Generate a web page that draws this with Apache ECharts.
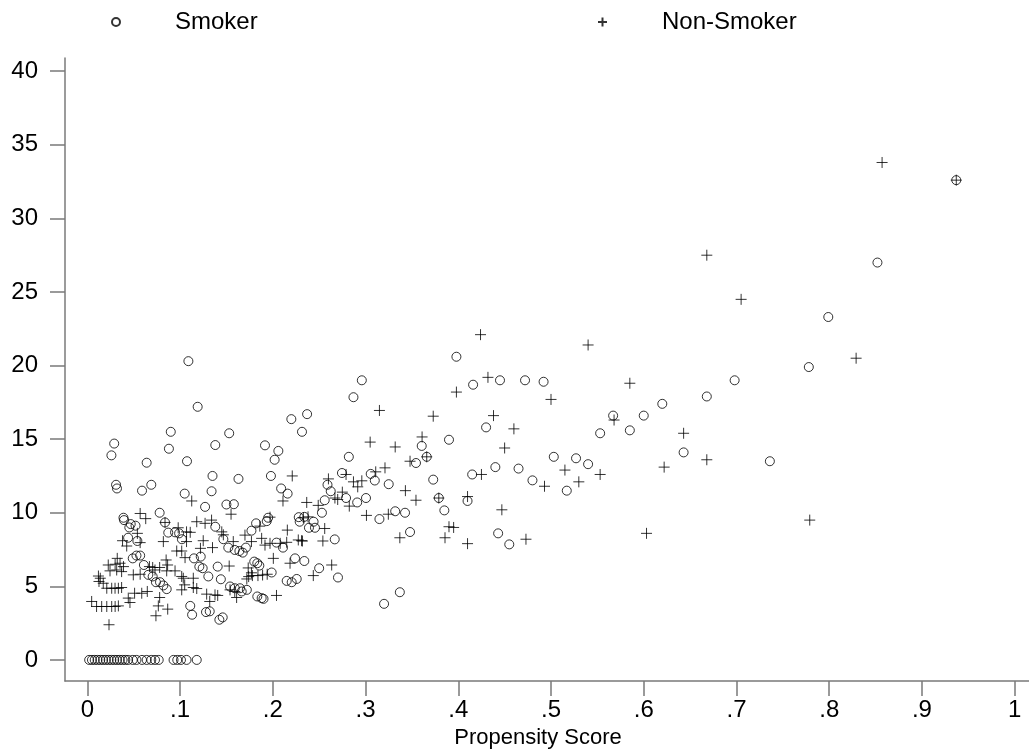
<!DOCTYPE html>
<html>
<head>
<meta charset="utf-8">
<script src="https://cdn.jsdelivr.net/npm/echarts@6/dist/echarts.min.js"></script>
<style>
  html, body { margin: 0; padding: 0; background: #fff; }
  #main { width: 1029px; height: 754px; }
</style>
</head>
<body>
<div id="main"></div>
<script>
// propensity score vs value, circles = smokers, plus = non-smokers
var xTicks = [0, 0.1, 0.2, 0.3, 0.4, 0.5, 0.6, 0.7, 0.8, 0.9, 1];
var yTicks = [0, 5, 10, 15, 20, 25, 30, 35, 40];

var smokerZero = [0.002, 0.005, 0.008, 0.011, 0.014, 0.017, 0.02, 0.023, 0.026, 0.029, 0.032, 0.035,
  0.038, 0.041, 0.044, 0.049, 0.053, 0.059, 0.064, 0.069, 0.073, 0.077, 0.093, 0.097, 0.101, 0.107, 0.118];

var smoker = [
  [0.090, 15.5], [0.029, 14.7], [0.088, 14.35], [0.026, 13.9], [0.064, 13.4], [0.1075, 13.5],
  [0.031, 11.9], [0.032, 11.65], [0.059, 11.5], [0.069, 11.9], [0.105, 11.3], [0.078, 10.0], [0.039, 9.66],
  [0.119, 17.2], [0.109, 20.3], [0.153, 15.4], [0.138, 14.6], [0.135, 12.5], [0.163, 12.3], [0.134, 11.46],
  [0.127, 10.4], [0.150, 10.56], [0.158, 10.58], [0.220, 16.36], [0.237, 16.7], [0.2315, 15.5],
  [0.1916, 14.58], [0.206, 14.2], [0.202, 13.6], [0.198, 12.5], [0.209, 11.65], [0.216, 11.3],
  [0.195, 9.66], [0.1935, 9.43], [0.228, 9.7], [0.234, 9.72], [0.229, 9.39], [0.244, 9.39], [0.239, 8.98], [0.2455, 8.98],
  [0.0396, 9.5], [0.0468, 9.23], [0.052, 9.12], [0.0453, 9.0], [0.0838, 9.34], [0.0873, 8.65], [0.0946, 8.67],
  [0.102, 8.2], [0.099, 8.6], [0.044, 8.3], [0.054, 8.08], [0.049, 6.9], [0.053, 7.09], [0.057, 7.09],
  [0.061, 6.45], [0.0658, 5.78], [0.0705, 5.67], [0.074, 5.28], [0.0784, 5.28], [0.082, 5.06], [0.0856, 4.81],
  [0.111, 3.67], [0.113, 3.07],
  [0.138, 9.05], [0.1467, 8.2], [0.152, 7.63], [0.159, 7.47], [0.164, 7.4], [0.1676, 7.29], [0.171, 7.63],
  [0.182, 9.28], [0.177, 8.78], [0.204, 7.97], [0.211, 7.63], [0.224, 6.9], [0.234, 6.72], [0.1988, 5.94],
  [0.215, 5.37], [0.2204, 5.28], [0.2258, 5.5], [0.1833, 6.57], [0.18, 6.68], [0.1855, 6.41], [0.1406, 6.34],
  [0.144, 5.48], [0.1305, 5.67], [0.1208, 6.34], [0.1244, 6.23], [0.115, 6.9], [0.1223, 7.02],
  [0.1539, 4.99], [0.159, 4.87], [0.1646, 4.87], [0.172, 4.76], [0.1665, 4.65], [0.1833, 4.31], [0.188, 4.2],
  [0.19, 4.15], [0.128, 3.25], [0.132, 3.3], [0.1424, 2.73], [0.146, 2.89],
  [0.296, 19.0], [0.287, 17.85], [0.39, 14.96], [0.3606, 14.54], [0.366, 13.8], [0.282, 13.8], [0.3544, 13.38],
  [0.3056, 12.64], [0.31, 12.19], [0.325, 11.94], [0.2746, 12.7], [0.259, 11.9], [0.2625, 11.46], [0.279, 11.0],
  [0.256, 10.85], [0.253, 10.0], [0.291, 10.7], [0.3005, 11.0], [0.373, 12.25], [0.379, 11.0], [0.385, 10.16],
  [0.315, 9.57], [0.332, 10.1], [0.3426, 10.0], [0.348, 8.69], [0.2668, 8.19], [0.25, 6.23], [0.2703, 5.6],
  [0.337, 4.6], [0.32, 3.81],
  [0.398, 20.6], [0.416, 18.7], [0.445, 19.0], [0.472, 19.0], [0.492, 18.9], [0.43, 15.8], [0.44, 13.1],
  [0.465, 13.0], [0.415, 12.6], [0.48, 12.2], [0.503, 13.8], [0.517, 11.5], [0.527, 13.7], [0.54, 13.3],
  [0.443, 8.6], [0.455, 7.85], [0.553, 15.4], [0.567, 16.6], [0.585, 15.6], [0.6, 16.6], [0.62, 17.4],
  [0.643, 14.1], [0.668, 17.9], [0.698, 19.0], [0.736, 13.5], [0.778, 19.9], [0.799, 23.3], [0.852, 27.0],
  [0.937, 32.6], [0.41, 10.8]
];

var nonSmoker = [
  [0.057, 9.95], [0.063, 9.6], [0.0838, 9.34], [0.054, 8.6], [0.098, 8.98], [0.107, 8.7], [0.038, 8.1],
  [0.057, 7.97], [0.0425, 7.74], [0.082, 8.04], [0.0964, 7.4], [0.1018, 7.4], [0.1054, 6.95], [0.0323, 6.9],
  [0.0226, 6.45], [0.03, 6.5], [0.0353, 6.57], [0.039, 6.34], [0.0245, 6.05], [0.0317, 6.11], [0.037, 6.0],
  [0.067, 6.34], [0.0705, 6.28], [0.073, 6.11], [0.078, 6.28], [0.0496, 5.78], [0.057, 5.82], [0.085, 6.79],
  [0.0866, 6.45], [0.0856, 6.05], [0.0946, 6.05], [0.1018, 5.67], [0.105, 5.1], [0.1018, 4.76],
  [0.014, 5.55], [0.0172, 5.21], [0.021, 4.87], [0.0263, 4.87], [0.0299, 4.87], [0.0335, 4.87], [0.037, 4.92],
  [0.051, 4.53], [0.0587, 4.53], [0.0647, 4.65], [0.0442, 4.2], [0.046, 3.9], [0.078, 4.24], [0.0766, 3.67],
  [0.0867, 3.45], [0.074, 3.0], [0.0047, 3.97], [0.01, 3.63], [0.0155, 3.63], [0.021, 3.63], [0.0263, 3.63],
  [0.03, 3.63], [0.0335, 3.67], [0.0234, 2.39], [0.012, 5.7], [0.0126, 5.33],
  [0.155, 9.9], [0.118, 9.39], [0.127, 9.28], [0.134, 9.5], [0.111, 8.67], [0.145, 8.7], [0.1467, 8.5],
  [0.107, 8.04], [0.125, 8.1], [0.122, 7.58], [0.135, 7.63], [0.1574, 8.04], [0.186, 9.09], [0.170, 8.48],
  [0.177, 8.04], [0.188, 8.26], [0.1916, 7.8], [0.197, 7.92], [0.208, 7.92], [0.2157, 8.82], [0.215, 7.99],
  [0.2275, 8.15], [0.231, 8.1], [0.2186, 6.57], [0.2006, 6.9], [0.204, 4.38], [0.172, 5.5], [0.174, 5.66],
  [0.178, 5.73], [0.184, 5.73], [0.189, 5.77], [0.194, 5.82], [0.1735, 6.25], [0.177, 5.92], [0.153, 6.38],
  [0.1143, 5.55], [0.1035, 5.55], [0.1143, 4.92], [0.118, 4.85], [0.1287, 4.47], [0.1377, 4.42], [0.1406, 4.38],
  [0.132, 3.97], [0.1539, 4.76], [0.159, 4.65], [0.161, 4.24], [0.233, 9.65],
  [0.1126, 10.8], [0.221, 12.5], [0.211, 10.8], [0.2366, 10.7], [0.197, 9.7],
  [0.315, 16.95], [0.373, 16.56], [0.305, 14.8], [0.332, 14.47], [0.361, 15.15], [0.366, 13.8], [0.348, 13.5],
  [0.321, 13.05], [0.311, 12.78], [0.279, 12.6], [0.287, 12.1], [0.296, 12.17], [0.2916, 11.76], [0.26, 12.3],
  [0.275, 11.4], [0.267, 11.0], [0.27, 10.9], [0.249, 10.5], [0.2825, 10.45], [0.343, 11.5], [0.3544, 10.85],
  [0.379, 11.0], [0.301, 9.82], [0.3246, 9.9], [0.337, 8.3], [0.3857, 8.3], [0.39, 9.05], [0.238, 9.72],
  [0.256, 8.93], [0.232, 8.08], [0.254, 8.08], [0.2635, 6.45], [0.2437, 5.73],
  [0.424, 22.1], [0.398, 18.2], [0.432, 19.2], [0.438, 16.6], [0.46, 15.7], [0.45, 14.4], [0.425, 12.6],
  [0.41, 11.1], [0.447, 10.2], [0.473, 8.2], [0.41, 7.9], [0.493, 11.8], [0.515, 12.9], [0.53, 12.1],
  [0.553, 12.6], [0.54, 21.4], [0.585, 18.8], [0.568, 16.3], [0.603, 8.6], [0.622, 13.1], [0.643, 15.4],
  [0.668, 27.5], [0.668, 13.6], [0.705, 24.5], [0.779, 9.5], [0.829, 20.5], [0.857, 33.8], [0.937, 32.6],
  [0.5, 17.7], [0.395, 9.0]
];

var smokerData = smokerZero.map(function (x) { return [x, 0]; }).concat(smoker);

var font = "'Liberation Sans', Arial, sans-serif";
var axisGray = '#7a7a7a';

var myChart = echarts.init(document.getElementById('main'));
myChart.setOption({
  animation: false,
  backgroundColor: '#fff',
  textStyle: { fontFamily: font, color: '#000' },
  legend: [{
    data: ['Smoker'],
    left: 106,
    top: 5,
    itemWidth: 8,
    itemHeight: 8,
    selectedMode: false,
    textStyle: { fontSize: 24, color: '#000', padding: [0, 0, 0, 50] }
  }, {
    data: ['Non-Smoker'],
    left: 592,
    top: 5,
    itemWidth: 9,
    itemHeight: 9,
    selectedMode: false,
    textStyle: { fontSize: 24, color: '#000', padding: [0, 0, 0, 50] }
  }],
  grid: {
    left: 65,
    right: 0,
    top: 58,
    bottom: 71
  },
  xAxis: {
    type: 'value',
    min: -0.02405,
    max: 1.01542,
    name: 'Propensity Score',
    nameLocation: 'middle',
    nameGap: 44,
    nameTextStyle: { fontSize: 22, color: '#000', padding: [0, 18, 0, 0] },
    axisLine: { onZero: false, lineStyle: { color: axisGray, width: 1.5 } },
    axisTick: { customValues: xTicks, length: 15, lineStyle: { color: axisGray, width: 1.5 } },
    axisLabel: {
      customValues: xTicks,
      margin: 17,
      fontSize: 24,
      color: '#000',
      formatter: function (v) {
        if (v === 0) return '0';
        if (v === 1) return '1';
        return '.' + Math.round(v * 10);
      }
    },
    splitLine: { show: false }
  },
  yAxis: {
    type: 'value',
    min: -1.44,
    max: 40.9,
    axisLine: { show: true, onZero: false, lineStyle: { color: axisGray, width: 1.5 } },
    axisTick: { show: true, customValues: yTicks, length: 15, lineStyle: { color: axisGray, width: 1.5 } },
    axisLabel: {
      customValues: yTicks,
      margin: 27,
      fontSize: 24,
      color: '#000'
    },
    splitLine: { show: false }
  },
  series: [{
    name: 'Smoker',
    type: 'scatter',
    symbol: 'circle',
    symbolSize: 9,
    data: smokerData,
    itemStyle: { color: 'transparent', borderColor: '#000', borderWidth: 1 },
    emphasis: { disabled: true }
  }, {
    name: 'Non-Smoker',
    type: 'scatter',
    symbol: 'path://M5,0L5,10M0,5L10,5',
    symbolSize: 11,
    data: nonSmoker,
    itemStyle: { color: 'transparent', borderColor: '#000', borderWidth: 1 },
    emphasis: { disabled: true }
  }]
});
</script>
</body>
</html>
